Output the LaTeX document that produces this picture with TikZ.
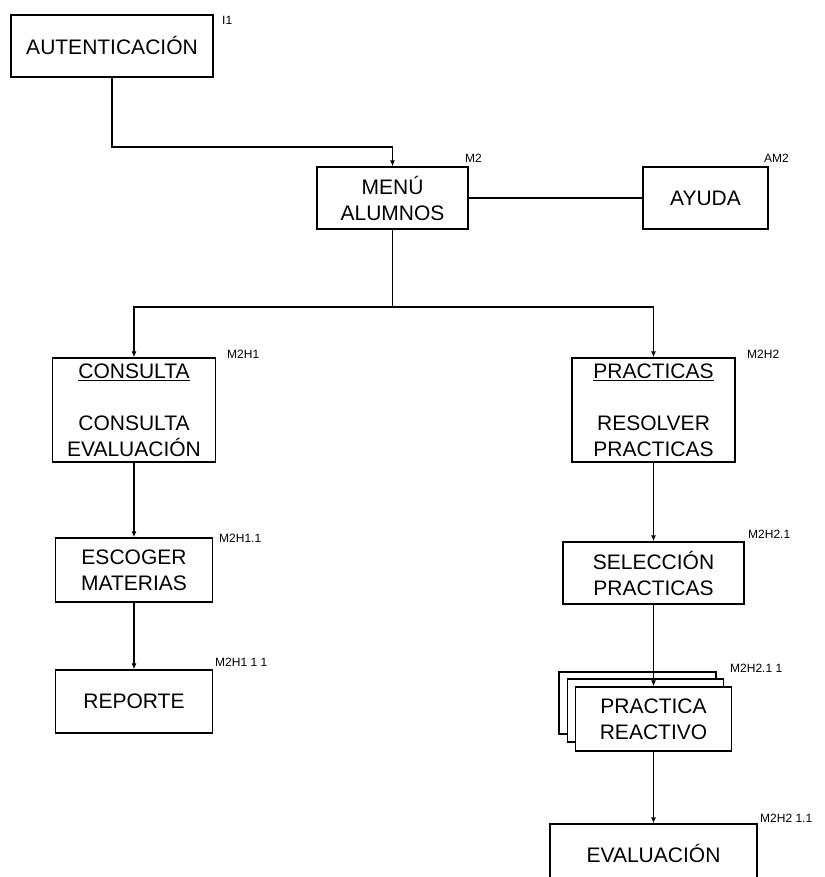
\documentclass[tikz,border=0pt]{standalone}
\usepackage{fontspec}
\setmainfont{Liberation Sans}
\usetikzlibrary{arrows.meta}

\newcommand\boxfont{\fontsize{21}{26}\selectfont}
\newcommand\tagfont{\fontsize{12}{13}\selectfont}

\tikzset{
  box/.style={draw, line width=1.4pt, align=center, font=\boxfont,
              inner sep=2pt, fill=white},
  tag/.style={anchor=west, font=\tagfont, inner sep=0pt},
  conn/.style={line width=1.3pt},
  arr/.style={conn, -{Latex[length=6pt,width=5pt]}}
}

\begin{document}
\begin{tikzpicture}[x=1pt, y=-1pt]
\useasboundingbox (0,0) rectangle (824,877);
\clip (0,0) rectangle (824,877);

% top level
\node[box, minimum width=202pt, minimum height=62pt] (aut) at (112,46) {AUTENTICACIÓN};
\node[tag] (taut) at (222,20) {I1};

\node[box, minimum width=151pt, minimum height=62pt] (menu) at (392.5,198) {MENÚ\\ALUMNOS};
\node[tag] (tmenu) at (465,158) {M2};

\node[box, minimum width=125pt, minimum height=62pt] (ayuda) at (705.5,198) {AYUDA};
\node[tag] (tayuda) at (764,158) {AM2};

% second level
\node[box, minimum width=163pt, minimum height=104pt] (consulta) at (134,410)
  {\underline{CONSULTA}\\[26pt]CONSULTA\\EVALUACIÓN};
\node[tag] (tconsulta) at (227,354) {M2H1};

\node[box, minimum width=163pt, minimum height=104pt] (practicas) at (653.5,410)
  {\underline{PRACTICAS}\\[26pt]RESOLVER\\PRACTICAS};
\node[tag] (tpracticas) at (747,354) {M2H2};

% left branch
\node[box, minimum width=157pt, minimum height=64pt] (escoger) at (134,570) {ESCOGER\\MATERIAS};
\node[tag] (tescoger) at (219,538) {M2H1.1};

\node[box, minimum width=157pt, minimum height=63pt] (reporte) at (134,701.5) {REPORTE};
\node[tag] (treporte) at (215,662) {M2H1 1 1};

% right branch
\node[box, minimum width=181pt, minimum height=62pt] (seleccion) at (653.5,573) {SELECCIÓN\\PRACTICAS};
\node[tag] (tseleccion) at (748,534) {M2H2.1};

% stacked multi-page box
\node[box, minimum width=157pt, minimum height=62pt] (stackA) at (637.5,703) {};
\node[box, minimum width=156pt, minimum height=63pt] (stackB) at (645.5,710.5) {};
\node[box, minimum width=156pt, minimum height=64pt] (reactivo) at (653.5,719) {PRACTICA\\REACTIVO};
\node[tag] (treactivo) at (730,668) {M2H2.1 1};

\node[box, minimum width=207pt, minimum height=58pt] (evaluacion) at (653.5,853) {EVALUACIÓN};
\node[tag] (tevaluacion) at (760,818) {M2H2 1.1};

% connectors
\coordinate (abend) at (392.5,147);
\draw[arr] (aut.south) |- (abend) -- (menu.north);
\draw[conn] (menu.east) -- (ayuda.west);

\coordinate (split) at (392.5,307);
\draw[conn] (menu.south) -- (split);
\draw[arr] (split) -| (consulta.north);
\draw[arr] (split) -| (practicas.north);

\draw[arr] (consulta.south) -- (escoger.north);
\draw[arr] (escoger.south) -- (reporte.north);

\draw[arr] (practicas.south) -- (seleccion.north);
\draw[arr] (seleccion.south) -- (reactivo.north);
\draw[arr] (reactivo.south) -- (evaluacion.north);
\end{tikzpicture}
\end{document}
